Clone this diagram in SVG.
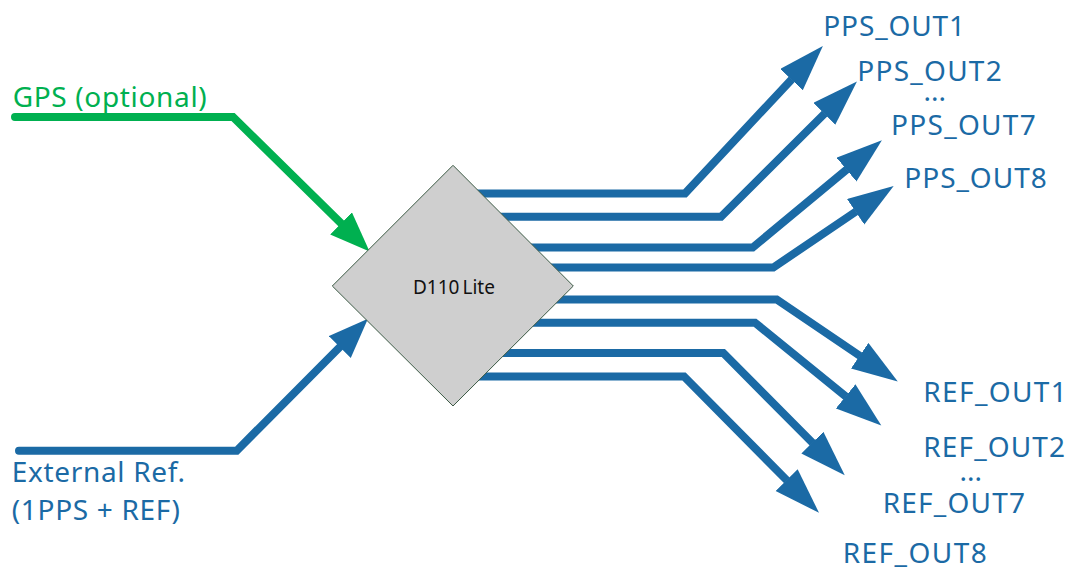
<svg xmlns="http://www.w3.org/2000/svg" width="1073" height="571" viewBox="0 0 1073 571">
  <style>
    .lbl { font-family: "Noto Sans", "Open Sans", "Liberation Sans", sans-serif; font-size: 28px; fill: #1B6AA5; }
    .green { fill: #00B050; }
    .wire { fill: none; stroke: #1B6AA5; stroke-width: 8; stroke-linejoin: miter; }
    .wire-in { fill: none; stroke: #1B6AA5; stroke-width: 8; stroke-linecap: round; stroke-linejoin: miter; }
    .wire-gps { fill: none; stroke: #00B050; stroke-width: 8; stroke-linecap: round; stroke-linejoin: miter; }
    .box { fill: #CFCFCF; stroke: #3C5A45; stroke-width: 1; }
    .boxlbl { font-family: "Noto Sans", "Open Sans", "Liberation Sans", sans-serif; font-size: 19px; fill: #111111; }
  </style>
  <defs>
    <marker id="arrOut" markerUnits="userSpaceOnUse" markerWidth="47" markerHeight="32" refX="0.5" refY="15.5" orient="auto">
      <path d="M0,0 L46,15.5 L0,31 Z" fill="#1B6AA5"/>
    </marker>
    <marker id="arrIn" markerUnits="userSpaceOnUse" markerWidth="41" markerHeight="32" refX="0.5" refY="15.5" orient="auto">
      <path d="M0,0 L40,15.5 L0,31 Z" fill="#1B6AA5"/>
    </marker>
    <marker id="arrGps" markerUnits="userSpaceOnUse" markerWidth="41" markerHeight="32" refX="0.5" refY="15.5" orient="auto">
      <path d="M0,0 L40,15.5 L0,31 Z" fill="#00B050"/>
    </marker>
  </defs>

  <g id="connectors">
    <path class="wire-gps" d="M15,117 L233,117 L341.4,223.7" marker-end="url(#arrGps)"/>
    <path class="wire-in" d="M19,450.7 L236.7,450.7 L340.1,346.7" marker-end="url(#arrIn)"/>
    <path class="wire" d="M453,193.5 L685,193.5 L791.8,79.2" marker-end="url(#arrOut)"/>
    <path class="wire" d="M453,216.8 L721,216.8 L824.7,113.5" marker-end="url(#arrOut)"/>
    <path class="wire" d="M453,247.5 L752.7,247.5 L846.9,169.3" marker-end="url(#arrOut)"/>
    <path class="wire" d="M453,267.5 L773.3,267.5 L856,211.5" marker-end="url(#arrOut)"/>
    <path class="wire" d="M453,299.5 L776.7,299.5 L860.1,356" marker-end="url(#arrOut)"/>
    <path class="wire" d="M453,322.7 L755,322.7 L846,396.7" marker-end="url(#arrOut)"/>
    <path class="wire" d="M453,353 L723.3,353 L812.7,443" marker-end="url(#arrOut)"/>
    <path class="wire" d="M453,376.5 L684,376.5 L787,480.5" marker-end="url(#arrOut)"/>
  </g>

  <g id="d110lite">
    <polygon class="box" points="453,165.3 573.3,286 453,406 332.3,286"/>
    <text class="boxlbl" x="413" y="293.5">D110<tspan dx="3">Lite</tspan></text>
  </g>

  <g id="gps">
    <text class="lbl green" x="12.7" y="107.3" textLength="194">GPS (optional)</text>
  </g>
  <g id="external-ref">
    <text class="lbl" x="11.7" y="481.7" textLength="173.3">External Ref.</text>
    <text class="lbl" x="11.7" y="520" textLength="168.3">(1PPS + REF)</text>
  </g>

  <g id="pps-outputs">
    <text class="lbl" x="823.3" y="36" textLength="141.7">PPS_OUT1</text>
    <text class="lbl" x="857.3" y="81" textLength="144.4">PPS_OUT2</text>
    <text class="lbl" x="923.5" y="101">...</text>
    <text class="lbl" x="891" y="135" textLength="144.7">PPS_OUT7</text>
    <text class="lbl" x="904.3" y="188.3" textLength="142.4">PPS_OUT8</text>
  </g>

  <g id="ref-outputs">
    <text class="lbl" x="923.3" y="401.7" textLength="143.4">REF_OUT1</text>
    <text class="lbl" x="923.3" y="456.7" textLength="141.7">REF_OUT2</text>
    <text class="lbl" x="959.5" y="481">...</text>
    <text class="lbl" x="882.7" y="512.7" textLength="142.3">REF_OUT7</text>
    <text class="lbl" x="842.7" y="563.3" textLength="144">REF_OUT8</text>
  </g>
</svg>
